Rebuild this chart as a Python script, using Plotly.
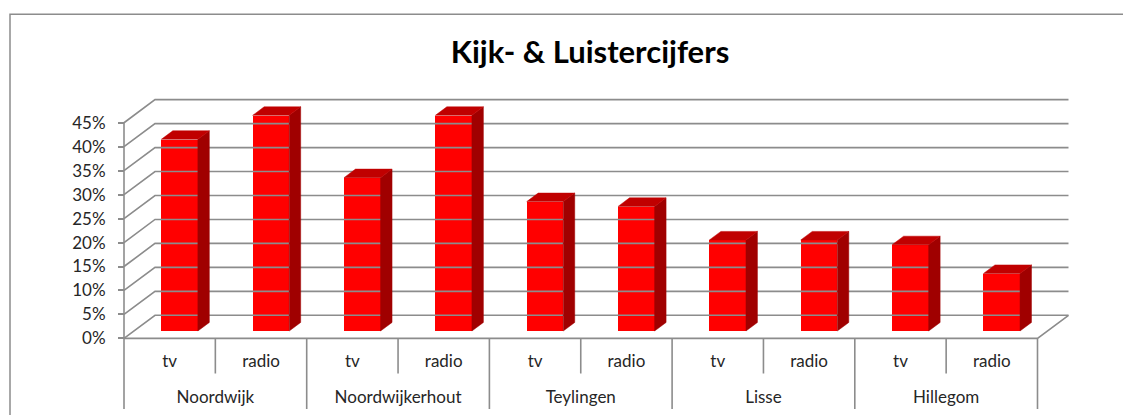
import plotly.graph_objects as go

# ---- data ----
gemeenten = ["Noordwijk", "Noordwijkerhout", "Teylingen", "Lisse", "Hillegom"]
media = ["tv", "radio"]
tv_values = [40, 32, 27, 19, 18]
radio_values = [45, 45, 26, 19, 12]
y_ticks = [0, 5, 10, 15, 20, 25, 30, 35, 40, 45]
title_text = "Kijk- &amp; Luistercijfers"

# ---- geometry (target screen pixel layout of the pseudo-3D frame) ----
OFF = 8               # default page body margin
SY = 0.976            # observed vertical capture scale
W = 1131 - 2 * OFF
H = round(415 / SY) - 2 * OFF
PX_X = 91.35          # pixels per category
PX_Y = 4.77           # screen pixels per percent
X0_PX = 124           # screen pixel of the front-left corner
Y0_PX = 336.7         # screen pixel of the front floor line
DEPTH_PX = (31, -23)  # back wall offset in pixels
DX = DEPTH_PX[0] / PX_X
DY = -DEPTH_PX[1] / PX_Y
F0, F1 = 0.32, 0.69   # depth fraction of bar front and back
BAR_W = 0.4

RED, TOP, SIDE = "#FF0000", "#C00000", "#A00000"
GRID = "#8C8C8C"
TXT = "#262626"
FONT = "Lato, 'Open Sans', sans-serif"


def fx_(px):
    return (px - OFF) / W


def fy_(py):
    return 1 - (py / SY - OFF) / H


cats = []
vals = []
for g, tv, ra in zip(gemeenten, tv_values, radio_values):
    cats += [(g, "tv"), (g, "radio")]
    vals += [tv, ra]
n = len(vals)

# axis ranges
x_lo_px, x_hi_px = X0_PX - 2, 1076
y_top_px, y_bot_px = 95, 338.5
x_range = [(x_lo_px - X0_PX) / PX_X, (x_hi_px - X0_PX) / PX_X]
y_range = [(Y0_PX - y_bot_px) / PX_Y, (Y0_PX - y_top_px) / PX_Y]
x_dom = [fx_(x_lo_px), fx_(x_hi_px)]
y_dom = [fy_(y_bot_px), fy_(y_top_px)]
screen_bottom = (H + OFF) * SY

fig = go.Figure()

# gridlines: back wall + side wall diagonals
gx, gy = [], []
for v in y_ticks:
    gx += [0, DX, n + DX, None]
    gy += [v, v + DY, v + DY, None]
# floor outline
gx += [0, n, n + DX, None]
gy += [0, 0, DY, None]
# front-left vertical edge
gx += [0, 0, None]
gy += [0, y_ticks[-1], None]
fig.add_trace(go.Scatter(x=gx, y=gy, mode="lines",
                         line=dict(color=GRID, width=1.6),
                         hoverinfo="skip", showlegend=False))

# bars (front face) with pseudo-3D side and top faces
fx = [i + 0.5 + F0 * DX for i in range(n)]
base0 = F0 * DY
ddx, ddy = (F1 - F0) * DX, (F1 - F0) * DY
for i, v in enumerate(vals):
    xl, xr = fx[i] - BAR_W / 2, fx[i] + BAR_W / 2
    top = base0 + v
    fig.add_trace(go.Scatter(
        x=[xr, xr + ddx, xr + ddx, xr, xr],
        y=[base0, base0 + ddy, top + ddy, top, base0],
        fill="toself", fillcolor=SIDE, mode="lines",
        line=dict(color=SIDE, width=0.5), hoverinfo="skip", showlegend=False))
    fig.add_trace(go.Scatter(
        x=[xl, xr, xr + ddx, xl + ddx, xl],
        y=[top, top, top + ddy, top + ddy, top],
        fill="toself", fillcolor=TOP, mode="lines",
        line=dict(color=TOP, width=0.5), hoverinfo="skip", showlegend=False))

fig.add_trace(go.Bar(x=fx, y=vals, base=[base0] * n, width=BAR_W,
                     marker=dict(color=RED, line=dict(width=0)),
                     hovertext=[f"{g} {m}: {v}%" for (g, m), v in zip(cats, vals)],
                     hoverinfo="text", showlegend=False))

# category table below the chart (xaxis2 / yaxis2, y in screen pixels below floor)
tx, ty = [], []
for k in range(n + 1):
    depth = 71 if k % 2 == 0 else 35
    tx += [k, k, None]
    ty += [0, -depth, None]
fig.add_trace(go.Scatter(x=tx, y=ty, mode="lines", xaxis="x2", yaxis="y2",
                         line=dict(color=GRID, width=1.6),
                         hoverinfo="skip", showlegend=False))
fig.add_trace(go.Scatter(x=[i + 0.5 for i in range(n)], y=[-24] * n,
                         text=[m for (_, m) in cats], mode="text",
                         textfont=dict(family=FONT, size=17, color=TXT),
                         xaxis="x2", yaxis="y2", hoverinfo="skip", showlegend=False))
fig.add_trace(go.Scatter(x=[2 * g + 1 for g in range(len(gemeenten))],
                         y=[-60] * len(gemeenten), text=gemeenten, mode="text",
                         textfont=dict(family=FONT, size=17, color=TXT),
                         xaxis="x2", yaxis="y2", hoverinfo="skip", showlegend=False))

fig.update_layout(
    width=W, height=H,
    margin=dict(l=0, r=0, t=0, b=0),
    paper_bgcolor="white", plot_bgcolor="rgba(0,0,0,0)",
    bargap=0,
    title=dict(text=f"<b>{title_text}</b>", x=fx_(590), xanchor="center",
               y=fy_(51), yanchor="middle",
               font=dict(family=FONT, size=31, color="#000000")),
    xaxis=dict(domain=x_dom, range=x_range, visible=False, fixedrange=True),
    yaxis=dict(domain=y_dom, range=y_range, anchor="free",
               position=fx_(X0_PX), showgrid=False, zeroline=False,
               showline=False, ticks="outside", ticklen=6, tickwidth=1.6,
               tickcolor=GRID, tickvals=y_ticks,
               ticktext=[f"{v}%" for v in y_ticks],
               tickfont=dict(family=FONT, size=17, color=TXT),
               ticklabelstandoff=9, fixedrange=True),
    xaxis2=dict(domain=x_dom, range=x_range, anchor="y2", visible=False,
                fixedrange=True),
    yaxis2=dict(domain=[0, fy_(Y0_PX)], range=[-(screen_bottom - Y0_PX), 0],
                anchor="x2", visible=False, fixedrange=True),
    shapes=[dict(type="rect", xref="paper", yref="paper",
                 x0=fx_(10), x1=1.02, y0=-0.05, y1=fy_(14),
                 line=dict(color="#8C8C8C", width=1.5), layer="below")],
)

fig.write_html("out.html")
